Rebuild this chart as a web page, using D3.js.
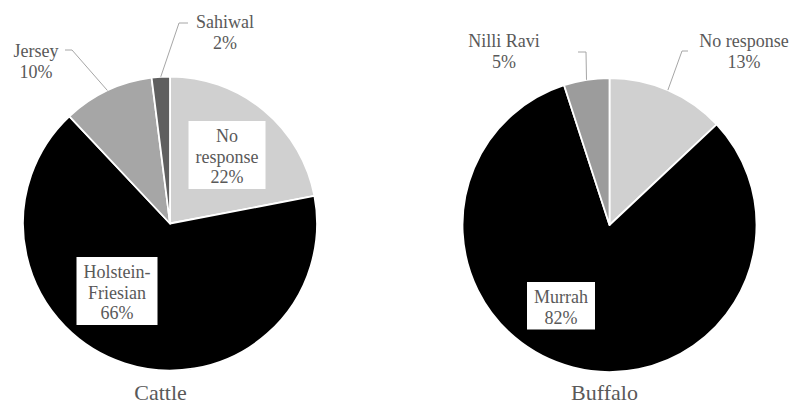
<!DOCTYPE html>
<html>
<head>
<meta charset="utf-8">
<script src="https://cdn.jsdelivr.net/npm/d3@7"></script>
<style>
  html, body { margin: 0; padding: 0; background: #ffffff; }
  svg { display: block; }
</style>
</head>
<body>
<svg id="chart" width="792" height="405"></svg>
<script>
// ---- data ----
const pieTitles = ["Cattle", "Buffalo"];

const cattleCategories = ["No response", "Holstein-Friesian", "Jersey", "Sahiwal"];
const cattleValues = [22, 66, 10, 2];
const cattleLabelLines = [["No", "response"], ["Holstein-", "Friesian"], ["Jersey"], ["Sahiwal"]];

const buffaloCategories = ["No response", "Murrah", "Nilli Ravi"];
const buffaloValues = [13, 82, 5];
const buffaloLabelLines = [["No response"], ["Murrah"], ["Nilli Ravi"]];

// ---- styling / layout ----
const FONT = '"Liberation Serif"';
const cattleColors = ["#d0d0d0", "#000000", "#a6a6a6", "#5f5f5f"];
const buffaloColors = ["#d0d0d0", "#000000", "#9c9c9c"];

const cattleLayout = [
  { dx: 57, dy: -81.5, box: true, leader: null },
  { dx: -53, dy: 54.5, box: true, leader: null },
  { dx: -134, dy: -166.5, box: false, leader: [[-105, -173.5], [-98, -173.5]] },
  { dx: 55, dy: -195.5, box: false, leader: [[18, -200.5], [9, -200.5]] }
];
const buffaloLayout = [
  { dx: 134.5, dy: -178, box: false, leader: [[78.5, -174], [72.5, -174]] },
  { dx: -48.5, dy: 78, box: true, leader: null },
  { dx: -105.5, dy: -178, box: false, leader: [[-31.5, -173], [-23.5, -173]] }
];

const pies = [
  { title: pieTitles[0], cats: cattleCategories, vals: cattleValues, lines: cattleLabelLines,
    colors: cattleColors, layout: cattleLayout, cx: 170, cy: 223.5, r: 147, titleX: 160.5, titleY: 400 },
  { title: pieTitles[1], cats: buffaloCategories, vals: buffaloValues, lines: buffaloLabelLines,
    colors: buffaloColors, layout: buffaloLayout, cx: 609.5, cy: 225, r: 147, titleX: 604.5, titleY: 400 }
];

const svg = d3.select("#chart");
svg.append("rect").attr("width", 792).attr("height", 405).attr("fill", "#ffffff");

const textColor = "#595959";
const fontSize = 18;
const lineH = 20.5;

pies.forEach(p => {
  const g = svg.append("g").attr("transform", `translate(${p.cx},${p.cy})`);
  const pie = d3.pie().sort(null).value(d => d.v).startAngle(0).endAngle(2 * Math.PI);
  const data = pie(p.cats.map((c, i) => ({ c, v: p.vals[i], i })));
  const arc = d3.arc().innerRadius(0).outerRadius(p.r);
  const color = d3.scaleOrdinal().domain(p.cats).range(p.colors);

  g.selectAll("path.slice").data(data).enter().append("path")
    .attr("class", "slice")
    .attr("d", arc)
    .attr("fill", d => color(d.data.c))
    .attr("stroke", "#ffffff")
    .attr("stroke-width", 1.8)
    .attr("stroke-linejoin", "round");

  // leaders
  const edgeArc = d3.arc().innerRadius(p.r).outerRadius(p.r);
  data.forEach(d => {
    const L = p.layout[d.data.i];
    if (!L.leader) return;
    const e = edgeArc.centroid(d);
    const pts = [L.leader[0], L.leader[1], e];
    g.append("path")
      .attr("d", d3.line()(pts))
      .attr("fill", "none")
      .attr("stroke", "#a6a6a6")
      .attr("stroke-width", 1);
  });

  // labels
  data.forEach(d => {
    const L = p.layout[d.data.i];
    const lines = p.lines[d.data.i].concat([d.data.v + "%"]);
    const lg = g.append("g");
    const t = lg.append("text")
      .attr("text-anchor", "middle")
      .style("font-family", FONT)
      .attr("font-size", fontSize)
      .attr("fill", textColor);
    lines.forEach((ln, k) => {
      t.append("tspan").attr("x", L.dx).attr("y", L.dy + k * lineH).text(ln);
    });
    if (L.box) {
      const bb = t.node().getBBox();
      lg.insert("rect", "text")
        .attr("x", bb.x - 7)
        .attr("y", bb.y - 5)
        .attr("width", bb.width + 14)
        .attr("height", bb.height + 7)
        .attr("fill", "#ffffff");
    }
  });

  svg.append("text")
    .attr("x", p.titleX)
    .attr("y", p.titleY)
    .attr("text-anchor", "middle")
    .style("font-family", FONT)
    .attr("font-size", 22)
    .attr("fill", textColor)
    .text(p.title);
});
</script>
</body>
</html>
